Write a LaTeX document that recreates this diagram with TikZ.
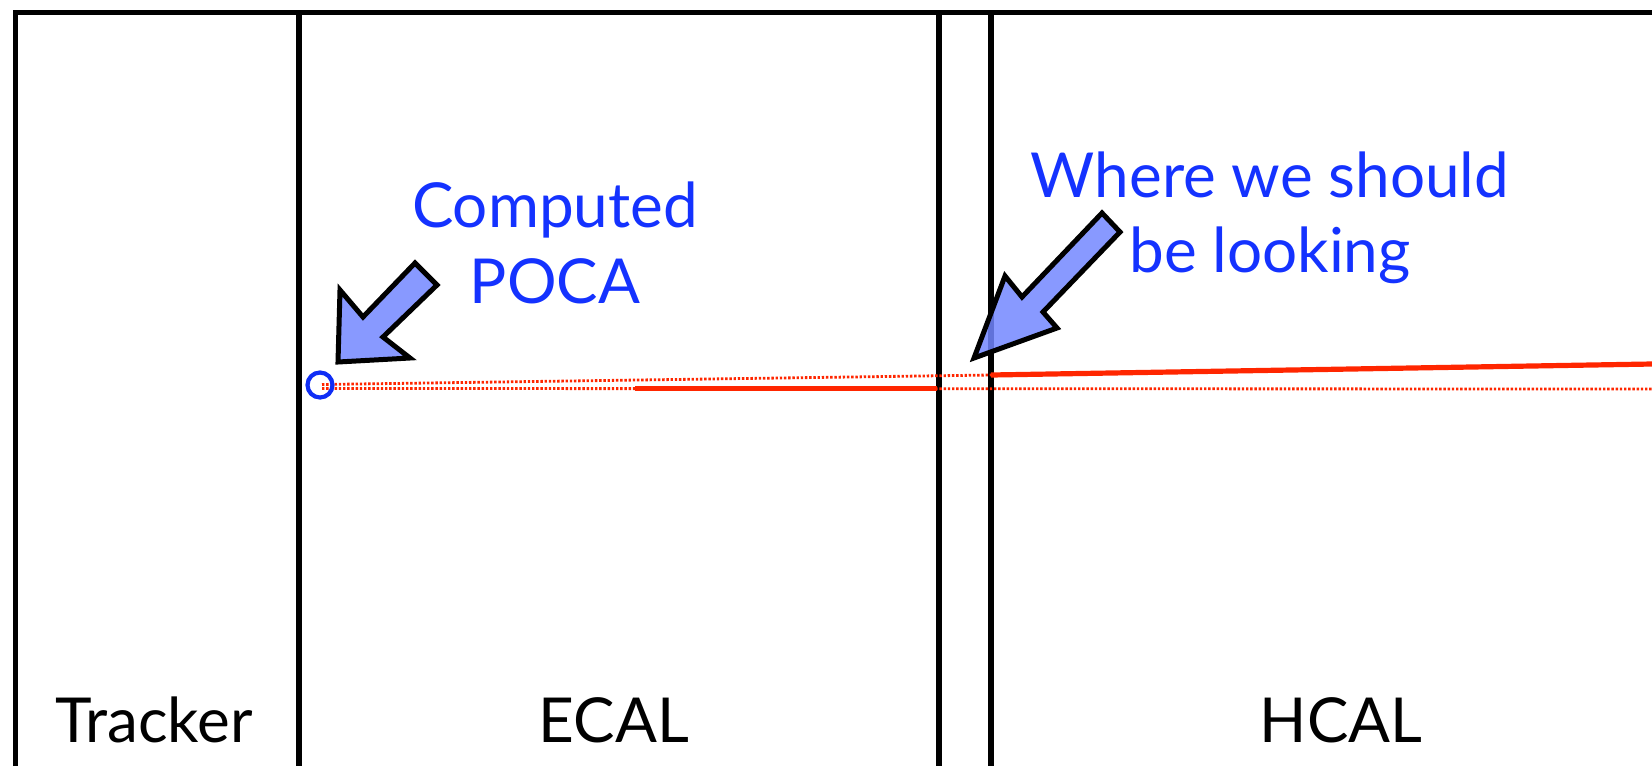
\documentclass[tikz,border=0pt]{standalone}
\usepackage{fontspec}
\setmainfont{Lato}
\definecolor{txtblue}{RGB}{20,50,255}
\definecolor{circblue}{RGB}{15,45,245}
\definecolor{trackred}{RGB}{255,38,0}
\definecolor{arrowfill}{RGB}{115,135,255}
\tikzset{
  frameline/.style={line width=2.6pt, black},
  solidtrack/.style={line width=2.6pt, trackred},
  dottrack/.style={line width=1.4pt, trackred, dash pattern=on 1.2pt off 0.9pt},
  blockarrow/.style={line width=2.5pt, draw=black, fill=arrowfill, fill opacity=0.85, line join=miter},
  bluelabel/.style={text=txtblue, font=\fontsize{31}{38}\selectfont, anchor=base, inner sep=0pt},
  detlabel/.style={text=black, font=\fontsize{31}{38}\selectfont, anchor=base, inner sep=0pt},
}
\begin{document}
\begin{tikzpicture}[x=0.5pt, y=-0.5pt]
\useasboundingbox (0,0) rectangle (1652,766);
% frame
\draw[frameline] (15.5,766) -- (15.5,12.5) -- (1652,12.5);
\draw[frameline] (299,12.5) -- (299,766);
\draw[frameline] (939,12.5) -- (939,766);
\draw[frameline] (991,12.5) -- (991,766);
% labels
\node[detlabel] (tracker) at (154,742) {Tracker};
\node[detlabel] (ecal) at (614,742) {ECAL};
\node[detlabel] (hcal) at (1341,742) {HCAL};
% tracks
\coordinate (p0) at (322,384.5);
\coordinate (p1) at (991,375);
\coordinate (p2) at (1652,364);
\coordinate (q0) at (322,388.5);
\coordinate (q1) at (1652,389);
\coordinate (s0) at (635,388.5);
\coordinate (s1) at (937,388.5);
\draw[dottrack] (p0) -- (p1);
\draw[dottrack] (q0) -- (q1);
\draw[solidtrack] (s0) -- (s1);
\draw[solidtrack] (p1) -- (p2);
% POCA circle
\node[draw=circblue, line width=2.1pt, circle, minimum size=12.5pt, inner sep=0pt] (poca) at (320,385) {};
% arrows
\draw[blockarrow] (338,362) -- (340,290) -- (363,317) -- (415,263) -- (437,285) -- (383,337) -- (410,358) -- cycle;
\draw[blockarrow] (974,358) -- (1005,276) -- (1022,297) -- (1102,213) -- (1120,232) -- (1043,312) -- (1057,328) -- cycle;
% blue texts
\node[bluelabel] (comp1) at (555,227) {Computed};
\node[bluelabel] (comp2) at (555,303) {POCA};
\node[bluelabel] (where1) at (1270,197) {Where we should};
\node[bluelabel] (where2) at (1270,272) {be looking};
\end{tikzpicture}
\end{document}
